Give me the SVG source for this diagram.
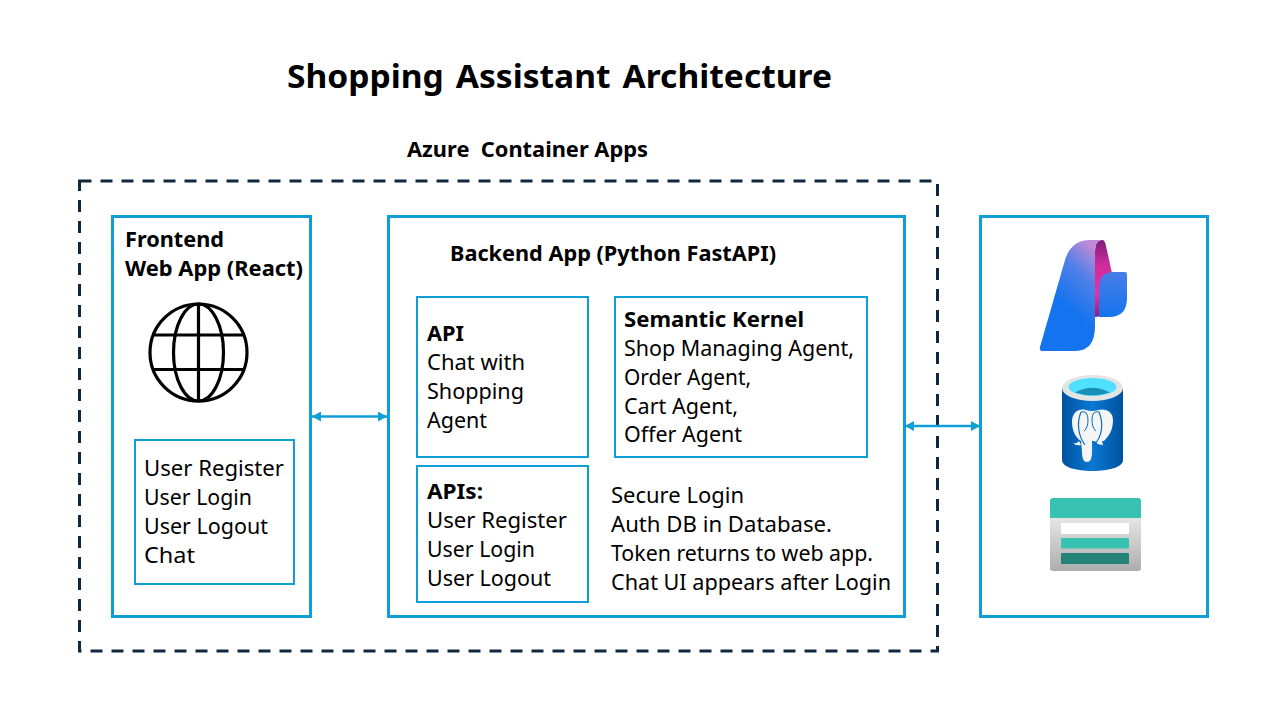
<svg xmlns="http://www.w3.org/2000/svg" width="1280" height="720" viewBox="0 0 1280 720">
<style>
text{font-family:"Noto Sans","Open Sans","Liberation Sans",sans-serif;font-size:21.5px;fill:#000;white-space:pre}
.b{font-weight:700}
.t{font-size:32px;font-weight:700;word-spacing:3px}
.box{fill:none;stroke:#0f9ed5;stroke-width:3}
.inner{fill:none;stroke:#0f9ed5;stroke-width:2}
.conn{fill:none;stroke:#0f9ed5;stroke-width:2.6;marker-start:url(#a);marker-end:url(#a)}
.globe{fill:none;stroke:#000;stroke-width:3.2}
</style>
<defs>
<marker id="a" markerUnits="userSpaceOnUse" markerWidth="10" markerHeight="10" refX="9" refY="5" orient="auto-start-reverse"><path d="M0,0L9,5L0,10z" fill="#0f9ed5"/></marker>
<linearGradient id="g1" x1="0.75" y1="0" x2="0.45" y2="0.6"><stop offset="0" stop-color="#c08ad8"/><stop offset="0.45" stop-color="#4f80e8"/><stop offset="1" stop-color="#1473ee"/></linearGradient>
<linearGradient id="g2" x1="0" y1="0" x2="0" y2="1"><stop offset="0" stop-color="#7a1f78"/><stop offset="0.3" stop-color="#c92c9c"/><stop offset="0.7" stop-color="#ee2fa4"/><stop offset="1" stop-color="#8a1f80"/></linearGradient>
<linearGradient id="g3" x1="0" y1="0" x2="0" y2="1"><stop offset="0" stop-color="#4a7de6"/><stop offset="1" stop-color="#1473ee"/></linearGradient>
<linearGradient id="g4" x1="0" y1="0" x2="1" y2="0"><stop offset="0" stop-color="#00529f"/><stop offset="0.5" stop-color="#0a78d4"/><stop offset="1" stop-color="#00529f"/></linearGradient>
<linearGradient id="g5" x1="0" y1="0" x2="0" y2="1"><stop offset="0" stop-color="#e6e6e6"/><stop offset="1" stop-color="#adadad"/></linearGradient>
</defs>
<rect width="1280" height="720" fill="#fff"/>
<text class="t" x="287" y="88" textLength="545" lengthAdjust="spacingAndGlyphs">Shopping Assistant Architecture</text>
<text class="b" x="407" y="157" textLength="241" lengthAdjust="spacingAndGlyphs">Azure  Container Apps</text>
<g id="container"><rect x="79.500" y="181" width="858" height="470" fill="none" stroke="#0e2841" stroke-width="3" stroke-dasharray="12 9"/></g>
<g id="frontend">
<rect class="box" x="112.500" y="216.500" width="198" height="400"/>
<text class="b" x="125" y="247" textLength="99" lengthAdjust="spacingAndGlyphs">Frontend</text>
<text class="b" x="125" y="276" textLength="178" lengthAdjust="spacingAndGlyphs">Web App (React)</text>
<g class="globe"><circle cx="198.500" cy="352.500" r="48.500"/><ellipse cx="198.500" cy="352.500" rx="25" ry="48.500"/><path d="M198.500,304V401M153,335H244M153,369.500H244"/></g>
<rect class="inner" x="135" y="440" width="159" height="144"/>
<text x="144" y="476" textLength="140" lengthAdjust="spacingAndGlyphs">User Register</text>
<text x="144" y="505" textLength="108" lengthAdjust="spacingAndGlyphs">User Login</text>
<text x="144" y="534" textLength="124" lengthAdjust="spacingAndGlyphs">User Logout</text>
<text x="144" y="563" textLength="51" lengthAdjust="spacingAndGlyphs">Chat</text>
</g>
<g id="backend">
<rect class="box" x="388.500" y="216.500" width="516" height="400"/>
<text class="b" x="450" y="261" textLength="326" lengthAdjust="spacingAndGlyphs">Backend App (Python FastAPI)</text>
</g>
<g id="api-chat">
<rect class="inner" x="417" y="297" width="171" height="160"/>
<text class="b" x="427" y="341" textLength="37" lengthAdjust="spacingAndGlyphs">API</text>
<text x="427" y="370" textLength="98" lengthAdjust="spacingAndGlyphs">Chat with</text>
<text x="427" y="399" textLength="97" lengthAdjust="spacingAndGlyphs">Shopping</text>
<text x="427" y="428" textLength="60" lengthAdjust="spacingAndGlyphs">Agent</text>
</g>
<g id="semantic-kernel">
<rect class="inner" x="615" y="297" width="252" height="160"/>
<text class="b" x="624" y="327" textLength="180" lengthAdjust="spacingAndGlyphs">Semantic Kernel</text>
<text x="624" y="356" textLength="230" lengthAdjust="spacingAndGlyphs">Shop Managing Agent,</text>
<text x="624" y="385" textLength="127" lengthAdjust="spacingAndGlyphs">Order Agent,</text>
<text x="624" y="414" textLength="114" lengthAdjust="spacingAndGlyphs">Cart Agent,</text>
<text x="624" y="442" textLength="118" lengthAdjust="spacingAndGlyphs">Offer Agent</text>
</g>
<g id="api-user">
<rect class="inner" x="417" y="466" width="171" height="136"/>
<text class="b" x="427" y="499" textLength="56" lengthAdjust="spacingAndGlyphs">APIs:</text>
<text x="427" y="528" textLength="140" lengthAdjust="spacingAndGlyphs">User Register</text>
<text x="427" y="557" textLength="108" lengthAdjust="spacingAndGlyphs">User Login</text>
<text x="427" y="586" textLength="124" lengthAdjust="spacingAndGlyphs">User Logout</text>
</g>
<g id="secure-login-note">
<text x="611" y="503" textLength="133" lengthAdjust="spacingAndGlyphs">Secure Login</text>
<text x="611" y="532" textLength="221" lengthAdjust="spacingAndGlyphs">Auth DB in Database.</text>
<text x="611" y="561" textLength="262" lengthAdjust="spacingAndGlyphs">Token returns to web app.</text>
<text x="611" y="590" textLength="280" lengthAdjust="spacingAndGlyphs">Chat UI appears after Login</text>
</g>
<g id="services">
<rect class="box" x="980.500" y="216.500" width="227" height="400"/>
<g id="foundry-icon">
<path d="M1096,244Q1098,240 1103,240Q1105,241 1106,246L1112,273L1100,316Q1097,317 1095,317L1095,250z" fill="url(#g2)"/>
<path d="M1040,347L1065,260Q1071,240 1090,240L1100,240Q1095,243 1095,252L1095,326Q1095,351 1075,351L1043,351Q1039,351 1040,347z" fill="url(#g1)"/>
<path d="M1112,272L1125,272Q1127,272 1127,275L1127,298Q1127,317 1109,317L1099,317L1099,288Q1099,273 1112,272z" fill="url(#g3)"/>
</g>
<g id="postgres-icon">
<path d="M1062,388V460C1062,467 1076,471 1092.500,471C1109,471 1123,467 1123,460V388z" fill="url(#g4)"/>
<ellipse cx="1092.500" cy="388" rx="30.500" ry="13" fill="#e4e4e4"/>
<ellipse cx="1092.500" cy="387" rx="24" ry="9" fill="#50e0ff"/>
<path d="M1075,392.500Q1092,383 1110,392.500Q1092,398 1075,392.500z" fill="#1a8fb5"/>
<path d="M1086,410C1079,408 1072,412 1072,422C1072,431 1076,438 1081,441L1082,452C1082,459 1084,462 1087,462C1091,462 1092,458 1092,450L1092,441L1104,441C1109,436 1113,430 1113,420C1113,412 1106,408 1098,410Q1092,412 1086,410z" fill="#f5f5f5"/>
<path d="M1073,443Q1077,444 1079,441L1081,445Q1076,446 1073,443zM1095,441L1102,441L1103,445Q1097,445 1095,441z" fill="#f5f5f5"/>
<path d="M1081,412C1076,424 1079,437 1085,445M1099,412C1104,424 1102,437 1094,445" fill="none" stroke="#0a6ac0" stroke-width="1.200"/>
<path d="M1081,412Q1088,410 1088,420Q1088,428 1084,431M1099,412Q1092,410 1092,420Q1092,428 1096,431" fill="none" stroke="#0a6ac0" stroke-width="1"/>
</g>
<g id="storage-icon">
<path d="M1050,517H1141V568Q1141,571 1138,571H1053Q1050,571 1050,568z" fill="url(#g5)"/>
<path d="M1050,518V501Q1050,498 1053,498H1138Q1141,498 1141,501V518z" fill="#37c2b1"/>
<rect x="1061" y="523" width="68" height="11" rx="1" fill="#fff"/>
<rect x="1061" y="538" width="68" height="10.500" rx="1" fill="#37c2b1"/>
<rect x="1061" y="553" width="68" height="11" rx="1" fill="#258277"/>
</g>
</g>
<g id="connectors">
<path class="conn" d="M312,416.500H387"/>
<path class="conn" d="M905,426H980"/>
</g>
</svg>
